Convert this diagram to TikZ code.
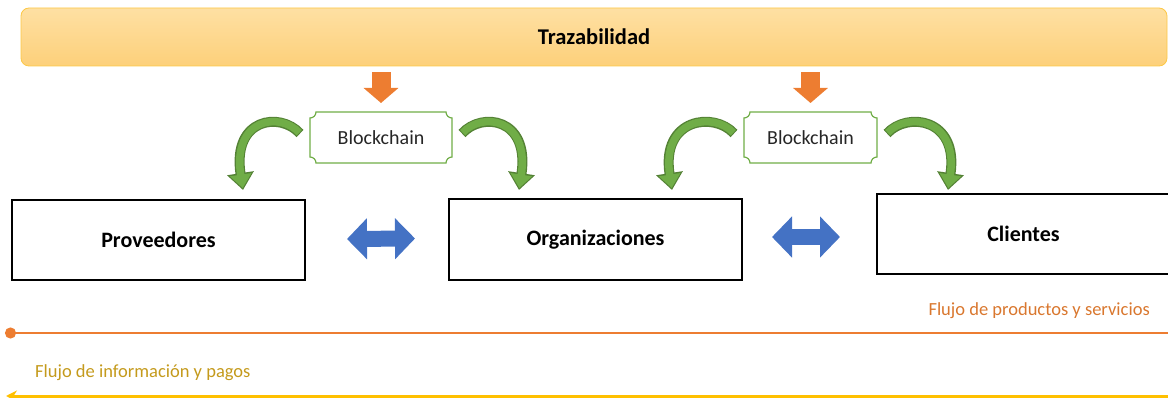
\documentclass[tikz,border=0pt]{standalone}
\usepackage{fontspec}
\setmainfont{Carlito}
\usetikzlibrary{arrows.meta}
\usetikzlibrary{positioning}
\definecolor{bannertop}{HTML}{FEE0A3}
\definecolor{bannerbot}{HTML}{FDD07A}
\definecolor{bannerline}{HTML}{FCC846}
\definecolor{chaingreen}{HTML}{70AD47}
\definecolor{chaindark}{HTML}{548235}
\definecolor{swapblue}{HTML}{4472C4}
\definecolor{flowOrange}{HTML}{ED7D31}
\definecolor{flowYellow}{HTML}{FFC000}
\definecolor{textOrange}{HTML}{D9772E}
\definecolor{textYellow}{HTML}{C49A1C}

% green frame with hollow corners round a node
\newcommand{\plaquebox}[1]{%
\draw[plaqueline] ([yshift=6pt]#1.south west) arc[start angle=90,end angle=0,radius=6pt]
  -- ([xshift=-6pt]#1.south east) arc[start angle=180,end angle=90,radius=6pt]
  -- ([yshift=-6pt]#1.north east) arc[start angle=270,end angle=180,radius=6pt]
  -- ([xshift=6pt]#1.north west) arc[start angle=0,end angle=-90,radius=6pt] -- cycle;}

\begin{document}
\begin{tikzpicture}[x=1pt, y=-1pt,
  banner/.style={rectangle, rounded corners=8pt, draw=bannerline, line width=0.8pt, top color=bannertop, bottom color=bannerbot, inner sep=0pt, font=\fontsize{22.5}{26}\selectfont\bfseries},
  entity/.style={rectangle, draw=black, line width=1.5pt, minimum width=293pt, minimum height=80pt, inner sep=0pt, outer sep=0pt, font=\fontsize{22}{26}\selectfont\bfseries},
  chain/.style={rectangle, inner sep=0pt, outer sep=0pt, minimum height=51pt, text=black!85, font=\fontsize{20}{24}\selectfont},
  plaqueline/.style={draw=chaingreen, line width=1.2pt},
  feed/.style={flowOrange, line width=19pt, -{Triangle[width=34pt,length=15pt]}},
  swap/.style={swapblue, line width=16pt, {Triangle[width=40pt,length=20pt]}-{Triangle[width=40pt,length=20pt]}},
  arcout/.style={chaindark, line width=10pt, -{Triangle[width=26pt,length=17pt]}},
  arcin/.style={chaingreen, line width=7.5pt, shorten >=2pt, shorten <=1pt, -{Triangle[width=21pt,length=13.5pt]}},
  flowtext/.style={inner sep=0pt, font=\fontsize{18.5}{22}\selectfont}]
\useasboundingbox (0,0) rectangle (1168,398);

\node[banner, minimum width=1146pt, minimum height=58pt] (traz) at (594,37) {Trazabilidad};

\node[chain, minimum width=142pt] (b1) at (381,137.5) {Blockchain};
\node[chain, minimum width=133pt] (b2) at (810.5,137.5) {Blockchain};
\plaquebox{b1}
\plaquebox{b2}

\node[entity] (prov) at (158.5,240) {Proveedores};
\node[entity, minimum height=81pt] (org) at (595.5,239.5) {Organizaciones};
\node[entity] (cli) at (1023.5,234) {Clientes};

% trazabilidad feeds the blockchain
\draw[feed] ([yshift=-6pt]traz.south -| b1.north) -- ([yshift=9pt]b1.north);
\draw[feed] ([yshift=-6pt]traz.south -| b2.north) -- ([yshift=9pt]b2.north);

% exchanges between the actors
\draw[swap] ([xshift=42pt,yshift=1pt]prov.east) -- ([xshift=-34pt,yshift=1pt]org.west);
\draw[swap] ([xshift=30pt,yshift=2.5pt]org.east) -- ([xshift=-37pt,yshift=-3pt]cli.west);

% curved arrows out of the blockchain
\coordinate (tipProv) at (243,190);
\coordinate (tipOrgL) at (519,190);
\coordinate (tipOrgR) at (672,190);
\coordinate (tipCli) at (948,190);
\foreach \layer in {arcout,arcin} {
  \draw[\layer] ([xshift=-10pt,yshift=4pt]b1.west) .. controls +(-20,-22) and +(-11,-72) .. (tipProv);
  \draw[\layer] ([xshift=10pt,yshift=4pt]b1.east) .. controls +(20,-22) and +(11,-72) .. (tipOrgL);
  \draw[\layer] ([xshift=-10pt,yshift=4pt]b2.west) .. controls +(-20,-22) and +(-11,-72) .. (tipOrgR);
  \draw[\layer] ([xshift=10pt,yshift=4pt]b2.east) .. controls +(20,-22) and +(11,-72) .. (tipCli);
}

% flows
\coordinate (prodStart) at (5,333);
\coordinate (prodEnd) at (1172,333);
\coordinate (payStart) at (1172,396);
\coordinate (payEnd) at (6,396);
\draw[flowOrange, line width=2.5pt, {Circle[length=11pt]}-] (prodStart) -- (prodEnd);
\draw[flowYellow, line width=3pt, -{Stealth[length=11pt,width=11pt]}] (payStart) -- (payEnd);
\node[flowtext, text=textOrange, anchor=base east] (prodlabel) at (1150,316) {Flujo de productos y servicios};
\node[flowtext, text=textYellow, anchor=base west] (paylabel) at (35,377) {Flujo de información y pagos};
\end{tikzpicture}
\end{document}
